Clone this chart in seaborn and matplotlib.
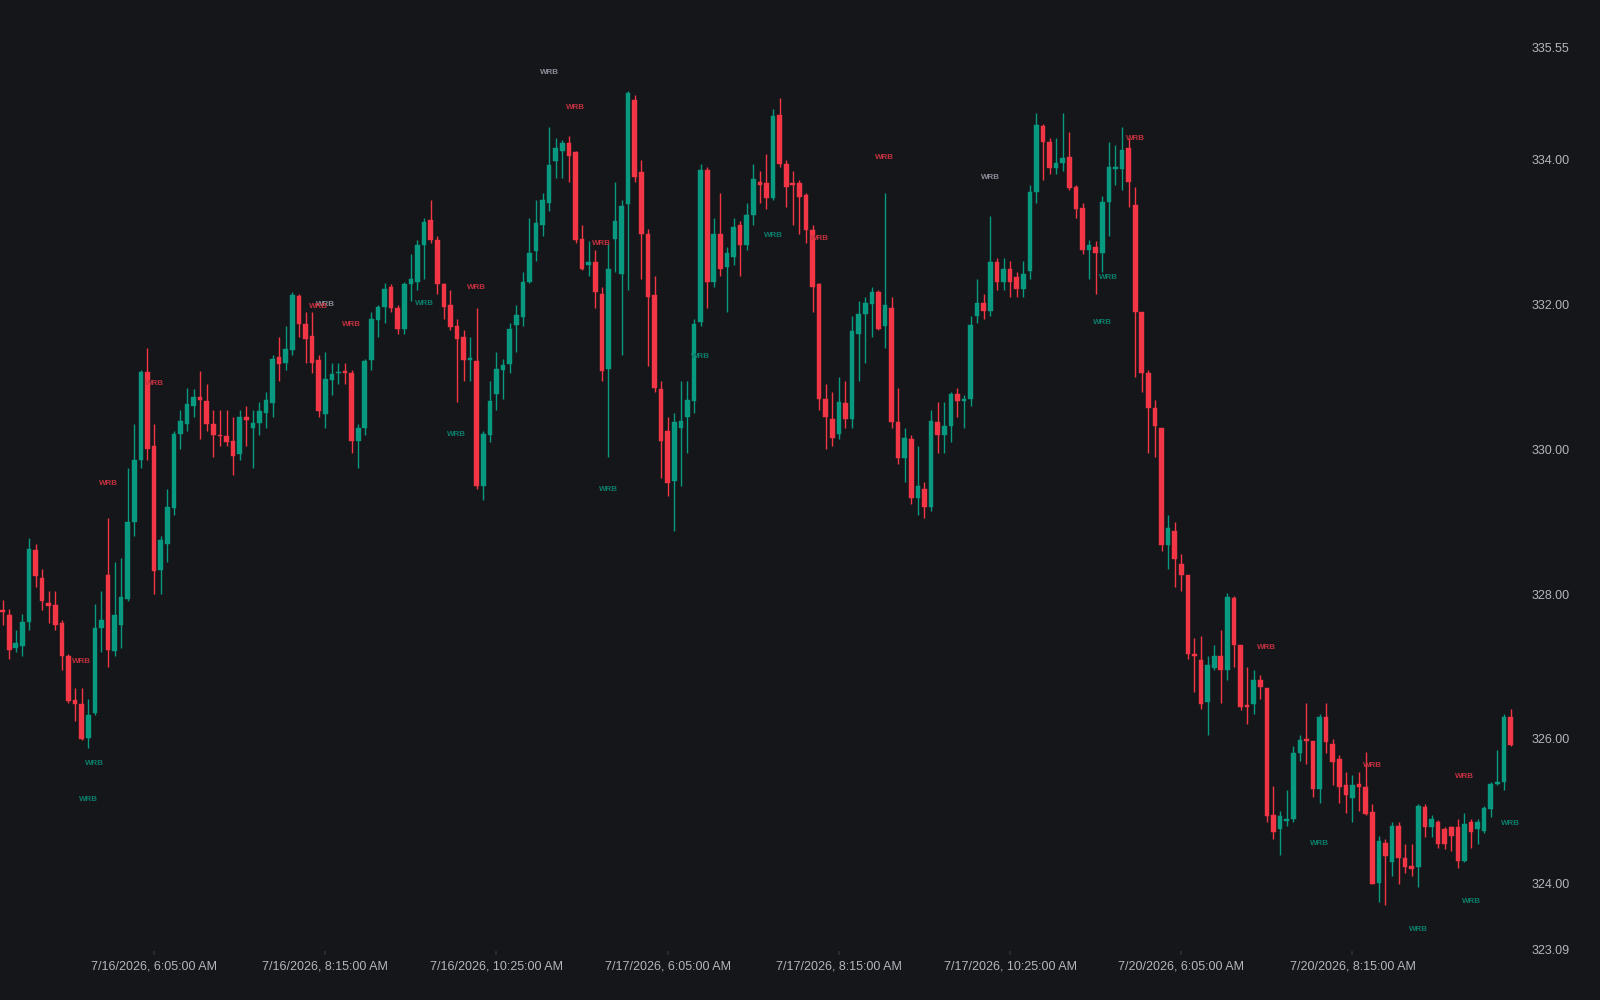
import numpy as np
import matplotlib
matplotlib.use("Agg")
import matplotlib.pyplot as plt
import seaborn as sns

opens = [327.78,327.71,327.25,327.29,327.61,328.61,328.22,327.88,327.85,327.60,327.15,326.54,326.48,326.02,326.36,327.53,328.26,327.22,327.58,327.93,
329.00,329.85,331.07,330.05,328.34,328.70,329.19,330.22,330.35,330.60,330.72,330.67,330.35,330.20,330.18,330.12,329.94,330.45,330.30,330.36,
330.50,330.64,331.28,331.19,331.38,332.12,331.74,331.57,331.23,330.49,330.96,331.05,331.08,331.05,330.12,330.30,331.24,331.79,331.97,332.24,
331.95,331.67,332.29,332.32,332.82,333.17,332.89,332.28,332.00,331.70,331.55,331.24,331.22,329.49,330.20,330.76,331.10,331.18,331.72,331.83,
332.32,332.74,333.10,333.41,333.99,334.13,334.24,334.11,332.91,332.55,332.59,332.15,331.11,332.91,332.43,333.39,334.83,333.83,332.98,332.14,
330.83,330.25,329.56,330.30,330.45,330.67,331.76,333.86,332.31,332.98,332.52,332.66,333.10,332.83,333.24,333.70,333.68,333.48,334.62,333.94,
333.68,333.68,333.51,333.03,332.28,330.70,330.42,330.21,330.64,330.42,331.60,331.87,332.01,332.17,331.70,331.95,330.38,329.88,330.14,329.33,
329.46,329.20,330.38,330.20,330.32,330.76,330.67,330.70,
331.84,332.03,331.91,332.59,332.32,332.50,332.38,332.22,332.46,333.56,334.47,334.25,333.89,333.96,334.04,333.62,333.34,332.76,332.80,332.72,
333.42,333.87,333.87,334.17,333.38,331.90,331.05,330.57,330.29,328.68,328.88,328.42,328.27,327.17,327.09,326.51,326.98,327.15,326.95,327.95,
327.30,326.47,326.48,326.81,326.71,324.95,324.75,324.86,324.90,325.81,326.00,325.97,325.31,326.30,325.93,325.73,325.37,325.18,325.38,325.34,
324.99,324.01,324.56,324.30,324.80,324.35,324.24,324.23,325.06,324.79,324.85,324.75,324.78,324.79,324.32,324.85,324.75,324.73,325.03,325.38,
325.41,326.30]
highs = [327.92,327.80,327.50,327.72,328.78,328.70,328.35,328.05,328.05,327.65,327.18,326.70,326.70,326.55,327.86,328.05,329.05,328.45,328.50,329.75,
330.35,331.10,331.40,330.35,328.80,329.45,330.25,330.55,330.85,330.83,331.08,330.90,330.55,330.55,330.55,330.45,330.55,330.60,330.55,330.65,
330.80,331.30,331.55,331.70,332.18,332.15,331.90,331.90,331.30,331.35,331.20,331.20,331.20,331.10,330.35,331.25,331.90,332.00,332.30,332.28,
332.00,332.32,332.70,332.90,333.20,333.45,332.95,332.30,332.20,331.80,331.65,331.55,331.95,330.25,330.95,331.35,331.25,331.75,332.00,332.45,
333.20,333.45,333.55,334.45,334.30,334.28,334.33,334.13,333.10,332.88,332.75,332.25,332.85,333.70,333.45,334.95,334.90,334.00,333.05,332.40,
330.95,330.45,330.50,330.95,330.95,331.80,333.95,333.90,333.20,333.55,332.80,333.20,333.15,333.40,333.95,333.85,334.08,334.70,334.85,334.00,
333.85,333.72,333.55,333.10,332.30,330.90,330.80,331.00,330.95,331.85,332.05,332.10,332.25,332.20,333.55,332.10,330.85,330.30,330.20,330.05,
329.55,330.55,330.65,330.65,330.80,330.85,330.75,331.85,
332.35,332.15,333.22,332.65,332.65,332.60,332.45,332.60,333.65,334.65,334.50,334.30,334.30,334.65,334.38,333.65,333.40,332.90,332.88,333.50,
334.25,334.20,334.45,334.30,333.62,331.90,331.10,330.68,330.29,329.10,329.00,328.55,328.27,327.40,327.42,327.15,327.30,327.50,328.02,327.98,
327.30,327.00,326.95,326.88,326.71,325.35,325.00,325.30,325.90,326.05,326.50,325.97,326.35,326.50,326.00,325.78,325.55,325.50,325.55,325.82,
325.10,324.66,324.62,324.85,324.85,324.55,324.55,325.10,325.10,324.95,324.88,324.78,324.80,324.90,324.98,324.90,324.90,325.08,325.40,325.85,
326.35,326.42]
lows = [327.57,327.10,327.20,327.15,327.50,328.10,327.78,327.60,327.50,326.95,326.50,326.25,325.98,325.88,326.33,327.20,327.00,327.15,327.25,327.90,
328.80,329.75,329.85,328.00,328.00,328.45,329.10,330.00,330.25,330.45,330.15,330.25,329.90,330.05,330.05,329.65,329.85,330.05,329.75,330.20,
330.30,330.45,330.95,331.10,331.30,331.55,331.20,331.05,330.45,330.30,330.75,330.90,330.90,329.95,329.75,330.20,331.10,331.55,331.75,331.90,
331.60,331.60,332.05,332.20,332.35,332.85,332.15,331.80,331.65,330.65,330.95,330.95,329.45,329.30,330.10,330.55,330.70,331.05,331.35,331.70,
332.30,332.60,332.95,333.30,333.75,333.75,333.70,332.85,332.48,332.40,331.95,330.95,329.90,332.45,331.30,332.20,333.70,332.35,331.15,330.80,
329.60,329.35,328.88,329.50,329.95,330.50,331.70,331.95,332.25,332.40,331.90,332.55,332.40,332.75,333.10,333.40,333.32,333.45,333.90,333.35,
333.10,332.98,332.85,331.90,330.55,330.00,330.05,330.15,330.30,330.30,330.95,331.20,331.55,331.65,331.40,330.30,329.80,329.55,329.25,329.10,
329.05,329.15,329.95,329.95,330.10,330.45,330.30,330.60,
331.75,331.80,331.85,332.20,332.20,332.10,332.10,332.10,332.35,333.40,333.72,333.80,333.80,333.85,333.58,333.20,332.70,332.35,332.15,332.45,
332.95,333.65,333.58,333.35,331.00,330.80,329.95,329.90,328.60,328.35,328.10,328.05,327.10,326.65,326.42,326.05,326.95,326.50,326.82,327.00,
326.40,326.20,326.35,326.55,324.85,324.62,324.40,324.80,324.85,325.70,325.65,325.20,325.12,325.80,325.37,325.12,324.98,324.85,325.00,324.95,
324.00,323.75,323.70,324.10,324.00,324.15,324.10,323.95,324.65,324.65,324.50,324.48,324.45,324.22,324.30,324.50,324.55,324.70,324.92,325.36,
325.30,325.90]
closes = [327.75,327.23,327.32,327.61,328.63,328.25,327.91,327.84,327.57,327.15,326.52,326.48,326.00,326.33,327.53,327.65,327.23,327.71,327.96,329.00,
329.85,331.07,330.00,328.32,328.75,329.20,330.21,330.39,330.63,330.73,330.68,330.35,330.20,330.18,330.10,329.91,330.45,330.41,330.36,330.53,
330.68,331.25,331.18,331.39,332.14,331.74,331.52,331.20,330.53,330.98,331.04,331.07,331.05,330.11,330.30,331.22,331.80,331.97,332.22,331.95,
331.66,332.29,332.36,332.82,333.14,332.89,332.28,331.97,331.69,331.53,331.24,331.26,329.49,330.21,330.67,331.11,331.17,331.66,331.86,332.32,
332.72,333.13,333.44,333.93,334.16,334.23,334.06,332.90,332.50,332.59,332.18,331.08,332.50,333.15,333.37,334.92,333.77,332.98,332.11,330.85,
330.12,329.53,330.38,330.40,330.69,331.74,333.86,332.31,332.98,332.50,332.72,333.08,332.83,333.24,333.73,333.66,333.48,334.61,333.94,333.62,
333.65,333.49,333.03,332.25,330.70,330.45,330.16,330.66,330.42,331.63,331.87,332.03,332.17,331.67,332.00,330.38,329.88,330.16,329.33,329.49,
329.20,330.40,330.20,330.33,330.76,330.67,330.70,331.72,
332.03,331.91,332.59,332.32,332.50,332.32,332.22,332.43,333.56,334.48,334.25,333.89,333.96,334.03,333.61,333.32,332.76,332.83,332.72,333.42,
333.90,333.90,334.14,333.70,331.90,331.05,330.57,330.32,328.68,328.91,328.49,328.27,327.17,327.14,326.48,327.02,327.15,326.95,327.96,327.30,
326.44,326.44,326.82,326.72,324.93,324.72,324.93,324.90,325.81,325.99,325.97,325.31,326.30,325.96,325.68,325.34,325.23,325.37,325.34,324.97,
324.00,324.59,324.38,324.80,324.35,324.23,324.20,325.07,324.79,324.89,324.55,324.55,324.66,324.31,324.83,324.72,324.85,325.04,325.38,325.41,
326.30,325.92]

tick_positions = [23, 49, 75, 101, 127, 153, 179, 205]
tick_labels = ["7/16/2026, 6:05:00 AM", "7/16/2026, 8:15:00 AM", "7/16/2026, 10:25:00 AM",
               "7/17/2026, 6:05:00 AM", "7/17/2026, 8:15:00 AM", "7/17/2026, 10:25:00 AM",
               "7/20/2026, 6:05:00 AM", "7/20/2026, 8:15:00 AM"]
price_ticks = [323.09, 324.00, 326.00, 328.00, 330.00, 332.00, 334.00, 335.55]

wrb_idx = [83, 87, 23, 16, 12, 14, 13, 49, 48, 53, 64, 72, 69, 91, 92, 106, 117, 124, 134, 150, 172, 168, 167, 192, 200, 208, 215, 222, 223, 229]
wrb_price = [335.21, 334.73, 330.91, 329.53, 327.07, 325.66, 325.16, 332.0, 331.98, 331.72, 332.01, 332.24, 330.2, 332.84, 329.44, 331.29,
             332.96, 332.91, 334.03, 333.76, 334.3, 332.38, 331.76, 327.26, 324.56, 325.64, 323.37, 325.48, 323.75, 324.83]
wrb_kind = ["n", "d", "d", "d", "d", "u", "u", "n", "d", "d", "u", "d", "u", "d", "u", "u",
            "u", "d", "d", "n", "d", "u", "u", "d", "u", "d", "u", "d", "u", "u"]

BG = "#151619"
UP = "#089981"
DOWN = "#F23645"
TXT = "#b2b5be"
label_colors = {"u": "#0b7d6b", "d": "#c2313f", "n": "#8a8e99"}

sns.set_theme(style="dark", rc={"axes.facecolor": BG, "figure.facecolor": BG})
plt.rcParams['font.family'] = ['Liberation Sans', 'DejaVu Sans']

fig = plt.figure(figsize=(16, 10), dpi=100)
ax = fig.add_axes([0, 1 - 932 / 980, 1490 / 1568, 932 / 980])
ax.set_facecolor(BG)

x = np.arange(len(closes))
o = np.array(opens); c = np.array(closes); h = np.array(highs); l = np.array(lows)
cols = np.where(c >= o, UP, DOWN)
ax.vlines(x, l, h, colors=cols, linewidth=1.0, zorder=2)
body = np.maximum(np.abs(c - o), 0.025)
ax.bar(x, body, bottom=np.minimum(o, c), width=0.7, color=cols, edgecolor=cols, linewidth=0.3, zorder=3)

for i, p, k in zip(wrb_idx, wrb_price, wrb_kind):
    ax.text(i, p, "WRB", color=label_colors[k], fontsize=5.8, fontweight="bold", ha="center", va="center", zorder=4)

ax.set_xlim(-0.4, 230.5)
ax.set_ylim(323.07, 336.21)
ax.yaxis.tick_right()
ax.set_yticks(price_ticks)
ax.set_yticklabels([f"{v:.2f}" for v in price_ticks])
ax.set_xticks(tick_positions)
ax.set_xticklabels(tick_labels)
ax.tick_params(axis="y", colors=TXT, labelsize=9, length=0, pad=8)
ax.tick_params(axis="x", colors=TXT, labelsize=9, length=3, pad=4, color="#2a2e39", bottom=True)
ax.grid(False)
for s in ax.spines.values():
    s.set_visible(False)

fig.savefig("out.png", dpi=100, facecolor=BG)
